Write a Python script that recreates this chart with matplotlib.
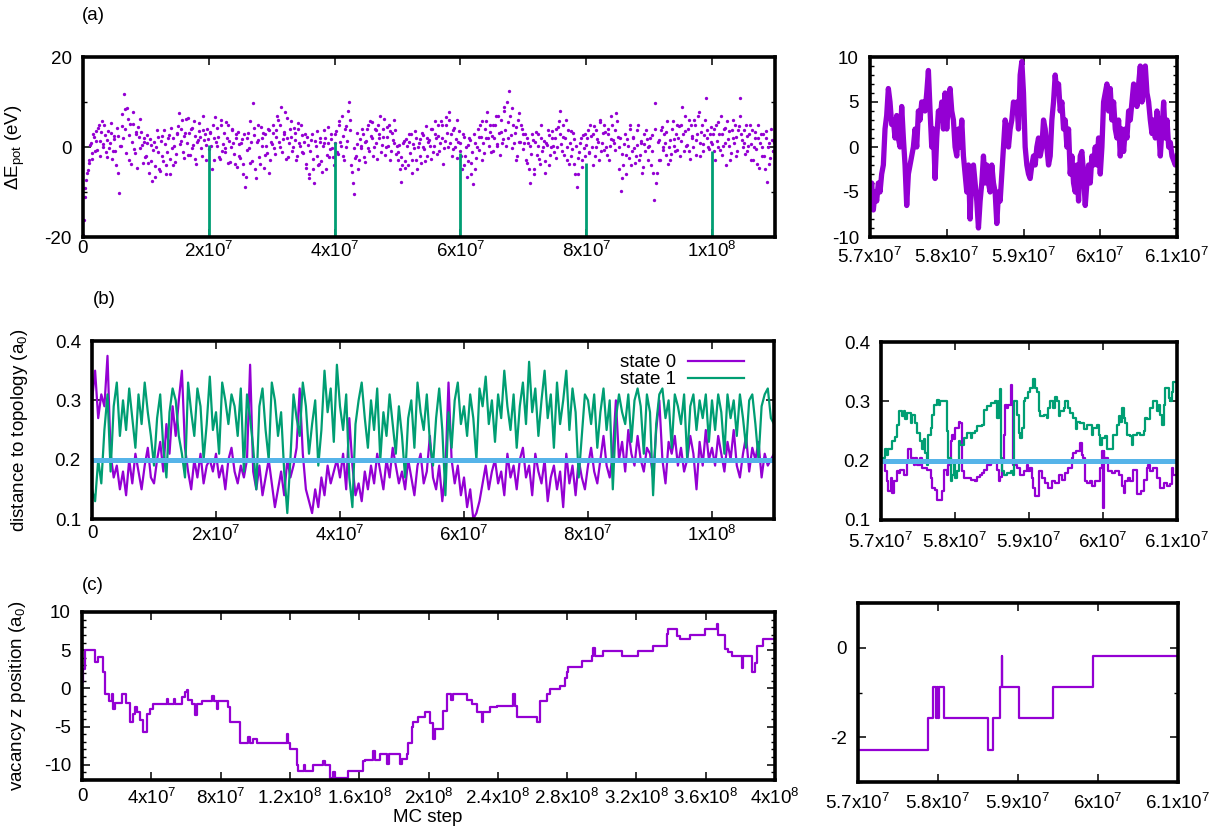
import numpy as np
import matplotlib
matplotlib.use("Agg")
import matplotlib.pyplot as plt
from matplotlib.ticker import MultipleLocator, FuncFormatter

plt.rcParams['font.family'] = ['Liberation Sans', 'DejaVu Sans']
plt.rcParams['mathtext.fontset'] = 'custom'
plt.rcParams['mathtext.rm'] = 'Liberation Sans'
plt.rcParams['axes.unicode_minus'] = False
FS = 13.5
plt.rcParams['font.size'] = FS

PURPLE = "#9400d3"
GREEN = "#009e73"
BLUE = "#56b4e9"

# ---------------- data ----------------
# (a) energy difference, sampled every 2.5e5 MC steps (two interleaved sample sets)
a_step = 2.5e5
a_energy = [
    -19.5, -11.2, -7.4, -5.1, -2.9, 0.8, -1.3, 2.2, 3.5, -0.6, 4.9, 1.4, 5.8, 0.1, 2.7, -2.2, 3.6, 1.0, 5.3, -0.9,
    1.8, -4.1, 2.5, -10.2, 0.3, 7.4, 11.8, 3.9, 8.6, -2.8, 5.2, 1.1, 7.7, -1.4, 2.9, 4.5, -0.2, 3.3, -3.5, 1.9,
    -2.1, 2.6, -5.8, 0.5, -7.6, 1.2, -4.3, 3.8, -1.1, -5.4, 2.4, -3.2, 0.7, -6.1, 1.9, -2.6, 4.3, -3.9, 0.2, -1.5,
    2.8, 7.6, 1.3, 5.9, -2.5, 3.1, 0.9, 6.4, -1.8, 4.2, 0.4, 2.5, -3.7, 1.6, 5.3, -0.3, 3.8, 1.5, -2.9, 4.1,
    -0.5, 3.4, -4.8, 1.9, 6.7, 0.2, 2.3, -2.7, 4.9, 0.6, -1.2, 5.5, -3.6, 1.3, -0.1, 3.9, -1.6, 2.8, -4.5, 0.7,
    -2.4, 1.8, -5.9, -8.8, -0.7, 3.2, -3.5, 1.1, 9.8, 2.6, -6.9, 1.5, -2.2, 4.4, 0.3, -4.7, 2.9, -1.4, 3.7, -2.8,
    0.6, 4.8, -1.5, 2.3, 5.9, 0.1, 8.8, 1.7, 3.4, -2.6, 6.5, 0.9, 2.2, -0.8, 4.3, 1.6, -1.9, 5.4, 0.2, 2.7,
    -1.3, 2.9, -4.6, 0.4, -6.8, 1.5, -2.7, -7.9, 0.3, 3.6, -3.8, 1.2, -5.5, 0.8, 2.1, -1.7, 4.5, -0.4, 1.8, -2.3,
    0.9, 3.5, -1.6, 5.8, 0.2, 2.4, -2.9, 4.7, 1.3, 9.9, 3.8, -5.6, -10.5, -2.5, 0.6, -4.8, 1.7, -0.3, 2.9, -3.4,
    1.4, 4.9, -0.8, 2.5, 5.6, 0.1, 3.7, -2.6, 1.9, 6.8, 0.5, 2.2, -1.8, 4.4, 0.3, 3.5, -0.9, 1.6, 5.9, -1.5,
    -2.8, 0.5, -7.8, -3.9, 1.4, -4.6, 0.2, 2.9, -1.3, -5.8, 0.7, 3.6, -2.9, 0.1, 1.8, -3.5, 2.6, -0.4, 4.7, -1.9,
    1.5, -2.7, 3.9, 0.2, 5.8, -1.6, 2.4, 0.8, 4.9, -3.7, 1.3, 6.6, 0.1, 7.8, 2.9, -0.5, 4.3, 1.7, -2.4, 3.5,
    0.8, -4.9, 2.3, -1.9, -6.7, 0.4, 1.5, -3.6, -8.2, 0.9, -2.5, 3.9, -0.7, 2.2, 5.8, -1.4, 1.9, 7.8, 0.3, 3.4,
    2.5, -0.9, 4.8, 0.6, 6.9, -1.7, 3.3, 1.8, 8.9, 0.2, 5.5, 12.5, 2.6, 8.7, 0.8, 4.4, -1.9, 7.6, 1.2, 3.9,
    -0.4, 2.8, -3.6, 0.9, -7.9, -1.5, 1.6, -4.8, 3.3, 0.2, -2.6, 4.9, -0.8, 1.4, -5.7, 0.5, 2.7, -1.8, 3.5, 0.3,
    1.9, -2.4, 4.5, 7.9, 0.6, 2.3, -1.7, 5.9, 0.1, -3.8, 3.6, -0.5, 1.8, -5.9, -8.8, -2.4, 0.8, -4.5, 2.6, -1.9,
    0.4, 3.8, -1.3, 2.5, -3.9, 4.6, 0.1, 1.7, -2.8, 5.6, 0.9, -0.6, 3.4, -1.8, 2.9, 0.2, 6.8, 1.5, -0.7, 7.6,
    2.3, -4.9, -9.8, -1.5, 0.7, -5.9, 1.8, -2.5, 3.9, -0.9, 2.2, -3.6, 0.5, 4.8, -1.7, 1.3, -4.4, 0.6, 3.7, -2.9,
    0.2, -3.9, 2.7, -11.8, 9.8, -5.7, 1.6, -2.8, 4.5, -0.7, 0.9, 3.4, -3.8, 1.5, -1.6, 5.8, 0.3, 2.9, -0.6, 4.7,
    1.3, 8.8, -0.9, 3.6, 0.5, 5.9, -2.7, 2.4, 0.1, 4.8, 1.6, 6.9, -1.9, 3.3, 0.7, 2.6, 10.8, 1.9, -0.4, 4.5,
    0.6, 3.9, -2.8, 1.4, 5.5, -0.7, 2.9, 0.2, 4.3, -3.9, 1.8, 3.5, -1.4, 5.9, 0.8, 2.2, -0.9, 4.6, 10.8, 1.5,
    3.8, -1.6, 2.5, 0.3, 4.9, 0.6, -2.9, 3.4, -0.5, 1.9, -4.7, 2.8, 0.1, -1.9, 3.5, -7.8, 0.9, -2.4, 1.6, -0.8,
]
a_energy_mid = [
    -16.3, -9.2, -5.8, -3.6, 0.4, -2.7, 2.9, -0.8, 1.3, 4.2, -1.9, 3.3, 0.6, 4.8, -1.2, 1.5, -0.3, 3.1, -2.6, 2.4,
    -0.9, 4.3, -5.7, 0.2, 4.6, 2.1, 8.4, -1.3, 6.2, 2.7, -3.8, 5.1, -0.4, 3.4, -4.6, 2.2, 6.3, 0.5, 1.1, -2.2,
    0.8, -3.6, 1.7, -3.1, -0.6, -6.7, 0.1, 2.3, -4.8, 1.4, -2.1, 3.8, -3.9, -1.2, 2.6, -5.9, -0.2, 1.9, -3.3, 3.2,
    4.6, 0.7, 3.9, -1.1, 2.4, 6.3, -1.8, 3.2, 4.1, -0.3, 5.7, -2.6, 1.1, 3.6, 2.2, -2.1, 6.9, 2.8, 0.4, 1.8,
    3.2, 0.3, 4.8, -2.9, 1.2, 4.3, -2.3, 6.1, -0.9, 3.1, -0.2, 2.1, 4.9, -3.3, 3.8, 0.9, -3.8, 1.9, 3.3, -2.1,
    0.9, -3.7, 2.8, -6.6, 1.9, -0.2, 5.8, -3.1, 4.2, -4.9, 1.1, 4.8, -3.8, 2.1, 3.2, -1.8, 0.2, 3.9, -5.8, 1.2,
    3.1, -0.3, 3.8, 6.9, 1.2, 4.9, -1.1, 2.8, 7.8, 2.1, -2.2, 3.9, 5.8, -0.1, 3.2, -2.9, 4.1, 0.8, 4.8, -1.2,
    1.1, -3.8, 2.2, -5.9, -0.8, 2.9, -4.8, 1.3, -2.1, -3.9, 1.9, -3.2, 0.3, 3.8, -4.9, 0.9, -2.2, 2.8, -0.2, -4.1,
    2.9, -1.2, 4.8, 1.1, 6.8, -1.9, 3.9, -0.1, 7.9, 6.1, -3.9, -7.9, -0.2, -2.1, 3.1, -2.8, 0.2, 4.1, -2.2, 1.2,
    3.9, -0.2, 5.8, 2.1, -1.9, 4.1, 0.8, 4.9, 2.8, -1.1, 3.9, 6.2, -0.1, 2.2, 4.8, -2.9, 3.1, 0.9, 3.8, 0.2,
    -1.1, -4.8, -2.2, 0.9, -3.1, 1.8, -3.9, 1.2, 2.9, -2.8, -0.2, 2.1, -4.9, 0.8, -2.1, 3.2, -0.1, -3.2, 1.9, 1.1,
    0.2, 3.9, -1.1, 2.8, 1.9, 4.8, -0.9, 5.8, 2.1, -0.2, 4.9, 3.2, 6.1, 0.8, -2.1, 3.8, 0.1, 5.9, 1.2, -0.8,
    -1.9, 2.8, -3.9, -0.1, -3.2, 1.9, -5.9, -1.2, 2.9, -4.8, 0.1, 2.2, 4.8, -2.8, 0.9, 3.9, 5.8, 2.1, 4.9, -1.1,
    4.8, 1.9, 6.8, 0.2, 3.1, 5.9, 0.8, 7.9, 3.8, 9.9, 2.1, 6.8, -0.2, 4.9, 3.2, -2.8, 5.9, 1.1, 4.8, 2.9,
    0.8, -2.9, 1.9, -4.8, 0.2, 2.8, -5.9, 1.1, -1.8, 2.9, -3.8, 2.1, -0.1, -3.1, 0.9, 3.8, -3.9, 0.1, 1.9, -1.2,
    3.9, -0.1, 5.8, 2.9, -0.8, 4.9, 2.1, -2.8, 3.8, 0.9, -1.9, 3.1, -3.8, 0.2, -5.9, -1.1, 1.9, -2.9, -0.2, 2.8,
    1.9, -1.1, 4.8, 0.1, 2.9, -1.9, 3.8, 1.1, 5.9, -0.8, 3.2, 4.8, 0.1, 3.9, -2.9, 1.8, 4.9, 0.9, 3.8, 5.8,
    -0.1, 1.9, -6.8, -3.9, 2.9, -1.8, 0.2, 4.8, -3.9, 2.1, -0.2, -1.9, 3.8, -2.9, 0.8, -5.8, 2.9, -0.9, 1.8, 0.1,
    1.9, -0.8, -5.8, 3.9, -7.9, 1.1, -2.9, 3.8, 0.1, 2.9, -1.8, 5.8, -0.1, -2.8, 3.9, 1.8, -0.9, 4.8, 1.9, -1.9,
    4.9, 2.8, 6.8, 0.2, 3.9, -0.8, 4.8, 1.9, 5.9, -1.8, 2.8, 7.8, 0.9, 4.8, -0.9, 5.9, 3.8, 0.1, 2.9, 1.1,
    2.8, -0.9, 4.8, 0.1, 2.9, 6.8, -1.8, 3.9, 0.9, 5.8, 0.2, -2.8, 3.8, 1.9, 4.9, -1.9, 3.8, 6.9, 2.8, -0.1,
    0.9, 4.8, -0.9, 2.9, -2.8, 3.8, 0.1, 1.9, -3.8, 4.9, 0.8, -1.9, 2.8, -4.8, 1.9, -0.1, -3.8, 3.9, -0.9, 1.1,
]
# structure changes (impulses)
a_event_x = [2e7, 4e7, 6e7, 8e7, 1e8]
a_event_y = [0.4, 1.2, -1.3, -3.5, -0.8]

# (a) zoom 5.7e7 .. 6.1e7, sampled every ~2.17e4 steps
az_start = 5.7e7
az_step = 1e6 / 46
az_energy = [
    -6, -4, -7, -5, -6, -4, -5, -3, -2, 2, 3.5, 6.5, 5, 2.5, 3, 1, 3.5, 1, 0, 4.5,
    1, -2, -6.5, -3, -2, -1, 0, 2, 0, 4, 3, 5, 5, 4, 6, 8.5, 4, 0, 2, -3.5,
    1, 4, 3, 5, 2, 6, 2, 5, 6.5, 4, 3, 0, -1, 2, 0, 3, -1, -3, -5, -2,
    -8, -3, -2, -4, -6, -9, -6, -4, -1, -4, -2, -4, -5, -2, -4, -5, -8.5, -5, -6, -3,
    0, 3, 2, 0, 2, 3, 5, 4, 5, 2, 8, 9.5, 6, 0, -2, -3, -3.5, -2, -1, -2,
    0, 1, -1, 0, 3, 2, 0, -2, -1, 3, 5, 8, 6, 7, 4, 5, 2, 3, 0, 2,
    -3, -1, -4, -5, -2, -6, -1, -0.5, -3, -6.5, -4, -2, -4, -1, -2, 0, -2, 1, -3, 0,
    5, 6, 7, 4, 6.5, 3, 5, 2, 1, 3, -1, 2, -0.5, 2, 1, 4, 3, 5, 7, 6,
    4.5, 7, 9, 5, 7, 9, 6, 5, 3, 1.5, 3, 1, 4, 2, -1, 2, 5, 1, 3, 0,
    0.5, -1, -1.5, -2, -1,
]

# (b) distance to topology, sampled every 5e5 steps
b_step = 5e5
b_state0 = [
    0.30, 0.35, 0.27, 0.31, 0.29, 0.375, 0.21, 0.17, 0.19, 0.15,
    0.18, 0.14, 0.20, 0.16, 0.21, 0.18, 0.15, 0.19, 0.22, 0.17,
    0.16, 0.20, 0.23, 0.18, 0.26, 0.21, 0.29, 0.24, 0.30, 0.35,
    0.22, 0.18, 0.15, 0.20, 0.17, 0.21, 0.16, 0.19, 0.20, 0.18,
    0.21, 0.17, 0.19, 0.15, 0.20, 0.22, 0.18, 0.16, 0.19, 0.17,
    0.20, 0.36, 0.18, 0.15, 0.19, 0.14, 0.17, 0.20, 0.16, 0.12,
    0.15, 0.18, 0.14, 0.20, 0.17, 0.19, 0.22, 0.32, 0.21, 0.15,
    0.13, 0.11, 0.15, 0.12, 0.17, 0.14, 0.19, 0.16, 0.18, 0.20,
    0.17, 0.21, 0.15, 0.27, 0.19, 0.14, 0.16, 0.13, 0.18, 0.15,
    0.19, 0.16, 0.21, 0.18, 0.15, 0.20, 0.17, 0.22, 0.19, 0.16,
    0.18, 0.15, 0.20, 0.17, 0.14, 0.19, 0.21, 0.16, 0.18, 0.24,
    0.17, 0.15, 0.19, 0.13, 0.18, 0.33, 0.20, 0.16, 0.19, 0.14,
    0.17, 0.12, 0.15, 0.10, 0.11, 0.13, 0.16, 0.19, 0.15, 0.18,
    0.20, 0.16, 0.18, 0.14, 0.21, 0.17, 0.19, 0.15, 0.20, 0.22,
    0.17, 0.19, 0.14, 0.21, 0.18, 0.16, 0.20, 0.13, 0.17, 0.19,
    0.15, 0.18, 0.12, 0.21, 0.16, 0.19, 0.14, 0.20, 0.17, 0.15,
    0.19, 0.22, 0.18, 0.16, 0.20, 0.24, 0.19, 0.17, 0.21, 0.30,
    0.20, 0.23, 0.18, 0.25, 0.21, 0.19, 0.24, 0.20, 0.18, 0.22,
    0.21, 0.17, 0.25, 0.30, 0.20, 0.16, 0.23, 0.21, 0.24, 0.19,
    0.22, 0.18, 0.20, 0.24, 0.21, 0.15, 0.23, 0.19, 0.25, 0.20,
    0.22, 0.19, 0.24, 0.21, 0.18, 0.23, 0.20, 0.25, 0.19, 0.17,
    0.21, 0.24, 0.18, 0.22, 0.20, 0.23, 0.17, 0.21, 0.19, 0.20,
    0.21,
]
b_state1 = [
    0.15, 0.13, 0.20, 0.16, 0.25, 0.31, 0.18, 0.29, 0.33, 0.24,
    0.30, 0.25, 0.32, 0.27, 0.22, 0.31, 0.26, 0.33, 0.28, 0.24,
    0.19, 0.27, 0.31, 0.22, 0.17, 0.28, 0.32, 0.30, 0.24, 0.21,
    0.17, 0.33, 0.28, 0.24, 0.32, 0.29, 0.20, 0.26, 0.34, 0.25,
    0.28, 0.21, 0.33, 0.30, 0.26, 0.31, 0.29, 0.24, 0.32, 0.18,
    0.31, 0.27, 0.22, 0.15, 0.29, 0.32, 0.25, 0.20, 0.33, 0.30,
    0.24, 0.28, 0.18, 0.11, 0.20, 0.31, 0.27, 0.24, 0.33, 0.29,
    0.21, 0.26, 0.30, 0.19, 0.25, 0.35, 0.28, 0.32, 0.23, 0.36,
    0.29, 0.25, 0.31, 0.17, 0.12, 0.26, 0.30, 0.33, 0.27, 0.22,
    0.30, 0.25, 0.32, 0.20, 0.28, 0.24, 0.31, 0.26, 0.21, 0.29,
    0.24, 0.17, 0.27, 0.30, 0.22, 0.33, 0.28, 0.25, 0.31, 0.23,
    0.19, 0.27, 0.32, 0.25, 0.14, 0.28, 0.22, 0.30, 0.33, 0.26,
    0.29, 0.24, 0.31, 0.27, 0.20, 0.32, 0.29, 0.34, 0.26, 0.30,
    0.23, 0.31, 0.27, 0.35, 0.29, 0.25, 0.31, 0.22, 0.29, 0.33,
    0.26, 0.365, 0.28, 0.32, 0.24, 0.30, 0.35, 0.27, 0.31, 0.22,
    0.33, 0.26, 0.30, 0.35, 0.25, 0.32, 0.28, 0.17, 0.24, 0.31,
    0.30, 0.26, 0.31, 0.22, 0.28, 0.32, 0.25, 0.30, 0.15, 0.27,
    0.31, 0.28, 0.26, 0.31, 0.23, 0.30, 0.32, 0.29, 0.21, 0.31,
    0.28, 0.14, 0.26, 0.31, 0.32, 0.27, 0.30, 0.22, 0.31, 0.29,
    0.26, 0.31, 0.20, 0.29, 0.31, 0.25, 0.30, 0.27, 0.31, 0.23,
    0.30, 0.25, 0.31, 0.28, 0.21, 0.31, 0.27, 0.30, 0.24, 0.31,
    0.27, 0.22, 0.30, 0.31, 0.26, 0.20, 0.29, 0.31, 0.32, 0.27,
    0.26,
]
b_threshold = 0.2

# (b) zoom, MC step in units of 1e6
bz_x1 = [
    57.00, 57.06, 57.08, 57.10, 57.15, 57.19, 57.22, 57.24, 57.28, 57.31,
    57.33, 57.35, 57.40, 57.42, 57.46, 57.49, 57.53, 57.55, 57.58, 57.60,
    57.62, 57.64, 57.67, 57.69, 57.71, 57.76, 57.78, 57.80, 57.89, 57.91,
    57.94, 57.96, 57.98, 58.00, 58.03, 58.05, 58.07, 58.12, 58.16, 58.21,
    58.23, 58.27, 58.30, 58.36, 58.39, 58.43, 58.48, 58.54, 58.57, 58.59,
    58.61, 58.62, 58.63, 58.66, 58.70, 58.75, 58.79, 58.80, 58.84, 58.86,
    58.88, 58.90, 58.93, 58.95, 58.99, 59.02, 59.06, 59.08, 59.11, 59.13,
    59.15, 59.20, 59.24, 59.26, 59.29, 59.33, 59.35, 59.38, 59.40, 59.42,
    59.47, 59.49, 59.53, 59.56, 59.60, 59.63, 59.65, 59.69, 59.74, 59.78,
    59.85, 59.87, 59.92, 59.94, 59.96, 59.99, 60.03, 60.05, 60.14, 60.19,
    60.21, 60.23, 60.26, 60.28, 60.30, 60.33, 60.37, 60.39, 60.41, 60.46,
    60.50, 60.55, 60.57, 60.59, 60.64, 60.68, 60.73, 60.75, 60.77, 60.80,
    60.82, 60.84, 60.89, 60.91, 60.93, 60.95, 61.00,
]
bz_state1 = [
    0.205, 0.22, 0.21, 0.22, 0.233, 0.24, 0.26, 0.283, 0.275, 0.283,
    0.27, 0.28, 0.264, 0.277, 0.264, 0.247, 0.233, 0.22, 0.236, 0.213,
    0.193, 0.244, 0.255, 0.277, 0.294, 0.303, 0.294, 0.30, 0.25, 0.205,
    0.165, 0.176, 0.199, 0.17, 0.182, 0.233, 0.227, 0.238, 0.247, 0.238,
    0.247, 0.25, 0.258, 0.26, 0.286, 0.292, 0.297, 0.30, 0.272, 0.30,
    0.32, 0.205, 0.182, 0.176, 0.18, 0.182, 0.176, 0.30, 0.277, 0.247,
    0.238, 0.255, 0.30, 0.306, 0.315, 0.323, 0.338, 0.323, 0.315, 0.283,
    0.275, 0.277, 0.272, 0.289, 0.30, 0.289, 0.308, 0.30, 0.275, 0.283,
    0.289, 0.30, 0.289, 0.28, 0.272, 0.253, 0.266, 0.264, 0.253, 0.26,
    0.244, 0.255, 0.26, 0.244, 0.227, 0.238, 0.241, 0.22, 0.244, 0.26,
    0.275, 0.266, 0.289, 0.272, 0.264, 0.244, 0.241, 0.227, 0.244, 0.247,
    0.244, 0.25, 0.272, 0.27, 0.289, 0.30, 0.283, 0.294, 0.277, 0.26,
    0.294, 0.323, 0.306, 0.30, 0.315, 0.332, 0.332,
]
bz_x0 = [
    57.00, 57.06, 57.08, 57.10, 57.13, 57.15, 57.17, 57.22, 57.24, 57.26,
    57.31, 57.35, 57.37, 57.40, 57.44, 57.46, 57.49, 57.53, 57.55, 57.62,
    57.67, 57.69, 57.73, 57.76, 57.82, 57.85, 57.89, 57.91, 57.94, 57.96,
    57.98, 58.00, 58.05, 58.07, 58.09, 58.12, 58.21, 58.27, 58.30, 58.34,
    58.36, 58.39, 58.43, 58.48, 58.52, 58.57, 58.59, 58.61, 58.63, 58.66,
    58.68, 58.70, 58.72, 58.75, 58.77, 58.79, 58.84, 58.88, 58.93, 58.97,
    58.99, 59.02, 59.04, 59.06, 59.08, 59.13, 59.17, 59.22, 59.26, 59.31,
    59.35, 59.40, 59.44, 59.49, 59.53, 59.58, 59.60, 59.64, 59.69, 59.71,
    59.73, 59.76, 59.78, 59.83, 59.85, 59.89, 59.96, 59.98, 60.00, 60.01,
    60.02, 60.07, 60.12, 60.16, 60.21, 60.25, 60.28, 60.30, 60.34, 60.37,
    60.41, 60.46, 60.52, 60.55, 60.59, 60.61, 60.64, 60.68, 60.73, 60.77,
    60.82, 60.86, 60.91, 60.93, 60.95, 61.00,
]
bz_state0 = [
    0.199, 0.182, 0.165, 0.149, 0.17, 0.146, 0.165, 0.182, 0.18, 0.185,
    0.176, 0.199, 0.22, 0.205, 0.193, 0.205, 0.193, 0.205, 0.188, 0.185,
    0.17, 0.154, 0.151, 0.134, 0.149, 0.185, 0.176, 0.193, 0.233, 0.244,
    0.236, 0.255, 0.266, 0.264, 0.182, 0.17, 0.168, 0.165, 0.173, 0.176,
    0.18, 0.185, 0.193, 0.196, 0.199, 0.185, 0.165, 0.173, 0.199, 0.244,
    0.294, 0.289, 0.294, 0.327, 0.294, 0.193, 0.188, 0.176, 0.182, 0.193,
    0.182, 0.188, 0.17, 0.154, 0.14, 0.182, 0.17, 0.162, 0.154, 0.165,
    0.162, 0.176, 0.168, 0.18, 0.188, 0.205, 0.213, 0.216, 0.23, 0.21,
    0.205, 0.165, 0.162, 0.165, 0.157, 0.165, 0.188, 0.216, 0.121, 0.216,
    0.205, 0.182, 0.18, 0.182, 0.176, 0.157, 0.146, 0.165, 0.17, 0.165,
    0.185, 0.143, 0.149, 0.168, 0.188, 0.193, 0.182, 0.188, 0.17, 0.154,
    0.162, 0.157, 0.16, 0.188, 0.176, 0.182,
]

# (c) vacancy z position, MC step in units of 1e7 (value holds until next step)
c_x = [
    0, 0.05, 0.15, 0.75, 0.94, 1.23, 1.33, 1.58, 1.71, 1.81, 1.90, 2.29, 2.54, 2.77,
    2.95, 3.06, 3.16, 3.35, 3.54, 3.73, 3.92, 4.12, 4.90, 4.95, 5.30, 5.35, 5.75,
    5.95, 6.04, 6.14, 6.33, 6.52, 6.62, 6.91, 7.49, 7.60, 7.77, 7.87, 8.45, 8.54,
    9.12, 9.60, 9.70, 9.89, 10.1, 11.81, 11.9, 12.0, 12.39, 12.49, 12.8, 12.9,
    13.35, 13.9, 14.0, 14.31, 14.5, 14.6, 15.37, 16.24, 16.33, 16.8, 16.9, 17.2,
    17.6, 17.7, 18.35, 18.45, 18.74, 18.84, 19.03, 19.12, 19.41, 19.8, 20.09,
    20.28, 20.37, 20.85, 21.05, 21.3, 21.4, 22.2, 22.49, 22.78, 23.07, 23.16,
    23.55, 23.94, 24.9, 25.0, 25.09, 26.24, 26.44, 26.82, 27.01, 27.59, 27.88,
    27.97, 28.07, 28.84, 29.42, 29.51, 29.6, 30.09, 31.15, 32.11, 32.98, 33.75,
    33.85, 34.33, 34.52, 35.09, 35.96, 36.63, 36.7, 37.11, 37.3, 37.5, 38.07,
    38.17, 38.65, 38.85, 38.94, 39.33, 40.0,
]
c_z = [
    0.8, 2.5, 5.0, 3.4, 4.1, 2.1, -0.8, -1.7, -0.8, -2.7, -1.9, -0.8, -1.9, -4.4,
    -3.3, -2.5, -3.1, -4.1, -5.7, -3.3, -2.7, -2.1, -1.4, -2.1, -1.4, -2.1, -1.1,
    -0.5, -0.2, -1.5, -2.1, -3.5, -2.1, -1.6, -1.0, -1.6, -2.7, -1.6, -2.4, -4.4,
    -7.2, -6.4, -7.2, -6.6, -7.2, -6.0, -7.2, -7.9, -10.1, -10.8, -10.1, -10.8,
    -10.1, -9.5, -10.1, -11.7, -10.9, -11.7, -10.8, -9.5, -9.4, -8.2, -9.4, -8.6,
    -9.9, -8.6, -9.9, -9.2, -8.6, -7.2, -5.0, -4.4, -3.8, -3.1, -4.6,
    -6.6, -5.3, -2.9, -0.8, -1.5, -0.8, -1.5, -2.1, -3.1, -4.4, -3.1,
    -2.4, -2.3, -0.8, -2.3, -3.8, -4.4, -1.6, -0.8, -0.1, 0.3, 1.4,
    2.1, 2.8, 3.6, 4.2, 5.3, 4.2, 4.9, 4.2, 4.9, 5.6, 7.1,
    7.8, 6.9, 6.4, 7.0, 7.8, 8.4, 7.0, 5.2, 4.8, 4.2, 2.7,
    4.2, 2.2, 3.3, 5.6, 6.4, 6.4,
]

# (c) zoom, MC step in units of 1e7
cz_x = [5.7000, 5.7879, 5.7942, 5.7980, 5.7986, 5.8001, 5.8007, 5.8075, 5.8629,
        5.8692, 5.8775, 5.8800, 5.8803, 5.9013, 5.9433, 5.9942, 6.1000]
cz_z = [-2.28, -1.58, -0.87, -1.58, -0.87, -1.58, -0.87, -1.58, -2.28,
        -1.58, -0.87, -0.18, -0.87, -1.58, -0.87, -0.18, -0.18]


# ---------------- helpers ----------------
def sci_label(v, pos=None):
    if abs(v) < 1e-9:
        return "0"
    e = int(np.floor(np.log10(abs(v)) + 1e-9))
    m = v / 10 ** e
    return f"{m:.3g}x10$^{{\\mathregular{{{e}}}}}$"


def style(ax, xpad):
    for s in ax.spines.values():
        s.set_linewidth(2.6)
    ax.tick_params(which='both', direction='in', top=True, right=True, labelsize=FS)
    ax.tick_params(which='major', length=6, width=1.1)
    ax.tick_params(which='minor', length=3, width=1.0)
    ax.tick_params(axis='y', pad=8)
    ax.tick_params(axis='x', pad=xpad)
    ax.xaxis.set_major_formatter(FuncFormatter(sci_label))


W, H = 1217, 835


def box(x0, y0, x1, y1):
    return [x0 / W, 1 - y1 / H, (x1 - x0) / W, (y1 - y0) / H]


fig = plt.figure(figsize=(W / 100, H / 100), dpi=100)

# ---- (a) left
ax = fig.add_axes(box(83, 57, 775, 237))
xa = np.arange(len(a_energy)) * a_step
xa_mid = a_step / 2 + np.arange(len(a_energy_mid)) * a_step
ax.plot(xa, a_energy, 'o', color=PURPLE, ms=2.4, mew=0)
ax.plot(xa_mid, a_energy_mid, 'o', color=PURPLE, ms=2.4, mew=0)
ax.vlines(a_event_x, -20, a_event_y, color=GREEN, lw=2)
ax.set_xlim(0, 1.1e8)
ax.set_ylim(-20, 20)
ax.xaxis.set_major_locator(MultipleLocator(2e7))
ax.yaxis.set_major_locator(MultipleLocator(20))
ax.yaxis.set_minor_locator(MultipleLocator(10))
style(ax, 2.5)
ax.set_ylabel(r"$\Delta$E$_{\mathregular{pot}}$ (eV)", fontsize=FS)
ax.yaxis.set_label_coords(-0.081, 0.5)

# ---- (a) right
ax = fig.add_axes(box(870, 57, 1177, 237))
xaz = az_start + np.arange(len(az_energy)) * az_step
ax.plot(xaz, az_energy, '-', color=PURPLE, lw=3.8)
ax.set_xlim(5.7e7, 6.1e7)
ax.set_ylim(-10, 10)
ax.xaxis.set_major_locator(MultipleLocator(1e6))
ax.yaxis.set_major_locator(MultipleLocator(5))
ax.yaxis.set_minor_locator(MultipleLocator(1))
style(ax, 6.5)

# ---- (b) left
ax = fig.add_axes(box(92, 341, 774, 519))
xb = np.arange(len(b_state0)) * b_step
ax.plot(xb, b_state0, color=PURPLE, lw=1.6, label='state 0')
ax.plot(xb, b_state1, color=GREEN, lw=1.6, label='state 1')
ax.axhline(b_threshold, color=BLUE, lw=3.6)
ax.set_xlim(0, 1.1e8)
ax.set_ylim(0.1, 0.4)
ax.xaxis.set_major_locator(MultipleLocator(2e7))
ax.yaxis.set_major_locator(MultipleLocator(0.1))
ax.yaxis.set_major_formatter(FuncFormatter(lambda v, p: f"{v:.1f}"))
style(ax, 4)
ax.legend(loc='upper right', frameon=False, markerfirst=False, fontsize=FS,
          handlelength=3.0, handletextpad=0.6, labelspacing=0.0,
          borderaxespad=0.3, bbox_to_anchor=(0.975, 1.0))
ax.set_ylabel(r"distance to topology (a$_{\mathregular{0}}$)", fontsize=FS)
ax.yaxis.set_label_coords(-0.091, 0.5)

# ---- (b) right
ax = fig.add_axes(box(881, 342, 1177, 520))
ax.plot(np.array(bz_x0) * 1e6, bz_state0, color=PURPLE, lw=1.6, drawstyle='steps-post')
ax.plot(np.array(bz_x1) * 1e6, bz_state1, color=GREEN, lw=1.6, drawstyle='steps-post')
ax.axhline(b_threshold, color=BLUE, lw=3.6)
ax.set_xlim(5.7e7, 6.1e7)
ax.set_ylim(0.1, 0.4)
ax.xaxis.set_major_locator(MultipleLocator(1e6))
ax.yaxis.set_major_locator(MultipleLocator(0.1))
ax.yaxis.set_major_formatter(FuncFormatter(lambda v, p: f"{v:.1f}"))
style(ax, 8)

# ---- (c) left
ax = fig.add_axes(box(82, 612, 775, 780))
ax.plot(np.array(c_x) * 1e7, c_z, color=PURPLE, lw=1.6, drawstyle='steps-post')
ax.set_xlim(0, 4e8)
ax.set_ylim(-12, 10)
ax.xaxis.set_major_locator(MultipleLocator(4e7))
ax.yaxis.set_major_locator(MultipleLocator(5))
ax.yaxis.set_minor_locator(MultipleLocator(1))
style(ax, 5.5)
ax.set_ylabel(r"vacancy z position (a$_{\mathregular{0}}$)", fontsize=FS)
ax.yaxis.set_label_coords(-0.078, 0.5)

# ---- (c) right
ax = fig.add_axes(box(858, 603, 1178, 782))
ax.plot(np.array(cz_x) * 1e7, cz_z, color=PURPLE, lw=1.6, drawstyle='steps-post')
ax.set_xlim(5.7e7, 6.1e7)
ax.set_ylim(-3, 1)
ax.xaxis.set_major_locator(MultipleLocator(1e6))
ax.yaxis.set_major_locator(MultipleLocator(2))
ax.yaxis.set_minor_locator(MultipleLocator(1))
style(ax, 7)

fig.text(82 / W, 1 - 15 / H, "(a)", ha='left', va='center', fontsize=FS)
fig.text(93 / W, 1 - 300 / H, "(b)", ha='left', va='center', fontsize=FS)
fig.text(82 / W, 1 - 585 / H, "(c)", ha='left', va='center', fontsize=FS)
fig.text(428 / W, 1 - 817 / H, "MC step", ha='center', va='center', fontsize=FS)

fig.savefig("out.png", dpi=100)
